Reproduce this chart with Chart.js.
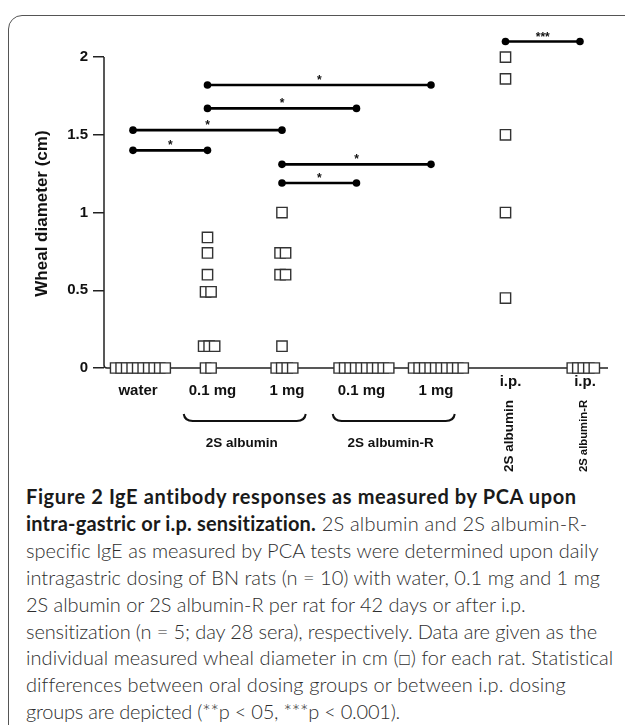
<!DOCTYPE html>
<html>
<head>
<meta charset="utf-8">
<script src="https://cdn.jsdelivr.net/npm/chart.js@4.4.0/dist/chart.umd.min.js"></script>
<style>
html, body { margin: 0; padding: 0; background: #fff; width: 625px; height: 725px; overflow: hidden; }
#card { position: absolute; left: 8px; top: 15px; width: 680px; height: 760px; border: 1.5px solid #555; border-top-left-radius: 14px; }
#c { position: absolute; left: 0; top: 0; }
#caption { position: absolute; left: 26px; top: 483px; font-family: Lato, 'Open Sans', sans-serif; font-size: 20px; font-weight: 300; line-height: 26.9px; color: #2e2e2e; white-space: nowrap; }
#caption span { display: inline-block; }
#caption b { color: #1a1a1a; font-weight: 700; }
</style>
</head>
<body>
<div id="card"></div>
<canvas id="c" width="625" height="480"></canvas>
<div id="caption">
<div><span><b>Figure 2 IgE antibody responses as measured by PCA upon</b></span></div>
<div><span><b>intra-gastric or i.p. sensitization.</b> 2S albumin and 2S albumin-R-</span></div>
<div><span>specific IgE as measured by PCA tests were determined upon daily</span></div>
<div><span>intragastric dosing of BN rats (n = 10) with water, 0.1 mg and 1 mg</span></div>
<div><span>2S albumin or 2S albumin-R per rat for 42 days or after i.p.</span></div>
<div><span>sensitization (n = 5; day 28 sera), respectively. Data are given as the</span></div>
<div><span>individual measured wheal diameter in cm (□) for each rat. Statistical</span></div>
<div><span>differences between oral dosing groups or between i.p. dosing</span></div>
<div><span>groups are depicted (**p &lt; 05, ***p &lt; 0.001).</span></div>
</div>
<script>
// groups along the x axis
var groups = ['water', '0.1 mg', '1 mg', '0.1 mg', '1 mg', 'i.p.', 'i.p.'];

// wheal diameter (cm) per rat
var water  = [0, 0, 0, 0, 0, 0, 0, 0, 0, 0];
var alb01  = [0, 0, 0.14, 0.14, 0.14, 0.49, 0.49, 0.6, 0.74, 0.84];
var alb1   = [0, 0, 0, 0, 0.14, 0.6, 0.6, 0.74, 0.74, 1.0];
var albR01 = [0, 0, 0, 0, 0, 0, 0, 0, 0, 0];
var albR1  = [0, 0, 0, 0, 0, 0, 0, 0, 0, 0];
var ipAlb  = [0.45, 1.0, 1.5, 1.86, 2.0];
var ipAlbR = [0, 0, 0, 0, 0];

var yTicks = [0, 0.5, 1, 1.5, 2];

// significance bars
var sigFrom = [0, 0, 1, 1, 2, 2, 5];
var sigTo   = [1, 2, 3, 4, 3, 4, 6];
var sigY    = [1.40, 1.53, 1.67, 1.82, 1.19, 1.31, 2.10];
var sigMark = ['*', '*', '*', '*', '*', '*', '***'];

// group headings
var braceNames = ['2S albumin', '2S albumin-R'];
var braceFrom = [1, 3];
var braceTo = [2, 4];
var ipNames = ['2S albumin', '2S albumin-R'];

var series = [water, alb01, alb1, albR01, albR1, ipAlb, ipAlbR];
var FONT = "'Liberation Sans', Arial, sans-serif";
var STEP = 0.074;

// equal values sit side by side
function spread(vals, g) {
    var seen = {};
    return vals.map(function (v) {
        var m = vals.filter(function (u) { return u === v; }).length;
        var k = seen[v] = (seen[v] === undefined ? 0 : seen[v] + 1);
        return { x: g + (k - 0.35 * (m - 1)) * STEP, y: v };
    });
}

var datasets = [];
series.forEach(function (vals, g) {
    datasets.push({
        data: spread(vals, g),
        showLine: false,
        pointStyle: 'rect',
        pointRadius: 7.3,
        pointBackgroundColor: '#fff',
        pointBorderColor: '#333',
        pointBorderWidth: 1.4,
        clip: false
    });
});
sigY.forEach(function (v, i) {
    datasets.push({
        data: [{ x: sigFrom[i], y: v }, { x: sigTo[i], y: v }],
        showLine: true,
        borderColor: '#000',
        borderWidth: 2.6,
        pointStyle: 'circle',
        pointRadius: 3.8,
        pointBackgroundColor: '#000',
        pointBorderWidth: 0,
        clip: false
    });
});

var decor = {
    id: 'decor',
    beforeDatasetsDraw: function (chart) {
        var ctx = chart.ctx, a = chart.chartArea, y = chart.scales.y;
        var y0 = y.getPixelForValue(0), y2 = y.getPixelForValue(2);
        ctx.save();
        ctx.strokeStyle = '#222';
        ctx.lineWidth = 1.5;
        ctx.beginPath();
        ctx.moveTo(a.left, y2);
        ctx.lineTo(a.left, y0 - 3);
        ctx.quadraticCurveTo(a.left, y0, a.left + 3, y0);
        ctx.lineTo(a.right, y0);
        ctx.stroke();
        ctx.restore();
    },
    afterDatasetsDraw: function (chart) {
        var ctx = chart.ctx, x = chart.scales.x, y = chart.scales.y;
        var y0 = y.getPixelForValue(0);
        ctx.save();
        ctx.fillStyle = '#111';
        ctx.strokeStyle = '#111';

        // y title
        ctx.save();
        ctx.translate(42, (y.getPixelForValue(2) + y0) / 2 + 1);
        ctx.rotate(-Math.PI / 2);
        ctx.font = 'bold 17px ' + FONT;
        ctx.textAlign = 'center';
        ctx.textBaseline = 'middle';
        ctx.fillText('Wheal diameter (cm)', 0, 0);
        ctx.restore();

        // group labels
        ctx.font = 'bold 15px ' + FONT;
        ctx.textAlign = 'center';
        ctx.textBaseline = 'middle';
        groups.forEach(function (g, i) {
            var py = i >= 5 ? y0 + 14 : y0 + 23;
            ctx.fillText(g, x.getPixelForValue(i) + 5, py);
        });

        // braces under oral groups
        ctx.lineWidth = 2;
        braceNames.forEach(function (name, i) {
            var mid = (x.getPixelForValue(braceFrom[i]) + x.getPixelForValue(braceTo[i])) / 2;
            var l = mid - 61, r = mid + 61, yb = y0 + 53;
            ctx.beginPath();
            ctx.moveTo(l, yb - 7);
            ctx.quadraticCurveTo(l + 1, yb, l + 9, yb);
            ctx.lineTo(r - 9, yb);
            ctx.quadraticCurveTo(r - 1, yb, r, yb - 7);
            ctx.stroke();
            ctx.font = 'bold 13.5px ' + FONT;
            ctx.fillText(name, mid - 3, y0 + 75);
        });

        // rotated names under i.p. groups
        ipNames.forEach(function (name, i) {
            ctx.save();
            ctx.translate(x.getPixelForValue(5 + i) + 4, y0 + 68);
            ctx.rotate(-Math.PI / 2);
            ctx.font = 'bold ' + (i === 0 ? 13.5 : 11.3) + 'px ' + FONT;
            ctx.fillText(name, 0, 0);
            ctx.restore();
        });

        // stars over the bars
        ctx.font = 'bold 12px ' + FONT;
        ctx.textBaseline = 'alphabetic';
        sigMark.forEach(function (s, i) {
            var mx = (x.getPixelForValue(sigFrom[i]) + x.getPixelForValue(sigTo[i])) / 2;
            ctx.fillText(s, mx, y.getPixelForValue(sigY[i]) - 1);
        });
        ctx.restore();
    }
};

var chart = new Chart(document.getElementById('c').getContext('2d'), {
    type: 'scatter',
    data: { datasets: datasets },
    options: {
        responsive: false,
        animation: false,
        layout: { padding: { left: 0, right: 17, top: 26, bottom: 112 } },
        plugins: { legend: { display: false }, tooltip: { enabled: false } },
        scales: {
            x: { type: 'linear', min: -0.389, max: 6.376, display: false },
            y: {
                min: 0,
                max: 2.2,
                afterFit: function (s) { s.width = 104; },
                afterBuildTicks: function (s) { s.ticks = yTicks.map(function (v) { return { value: v }; }); },
                ticks: {
                    color: '#111',
                    padding: 5,
                    font: { family: FONT, size: 15, weight: 'bold' },
                    callback: function (v) { return String(v); }
                },
                grid: { drawOnChartArea: false, drawTicks: true, tickLength: 11, color: '#222', lineWidth: 1.5 },
                border: { display: false }
            }
        }
    },
    plugins: [decor]
});

// stretch each caption line to the width it has in the figure
var captionWidths = [551, 562, 572, 574, 499, 572, 588, 539, 374];
function fitCaption() {
    var spans = document.querySelectorAll('#caption span');
    spans.forEach(function (el, i) {
        el.style.letterSpacing = '0px';
        var w = el.getBoundingClientRect().width;
        var n = el.textContent.length;
        el.style.letterSpacing = ((captionWidths[i] - w) / n).toFixed(3) + 'px';
    });
}
fitCaption();
if (document.fonts) document.fonts.ready.then(fitCaption);
</script>
</body>
</html>
